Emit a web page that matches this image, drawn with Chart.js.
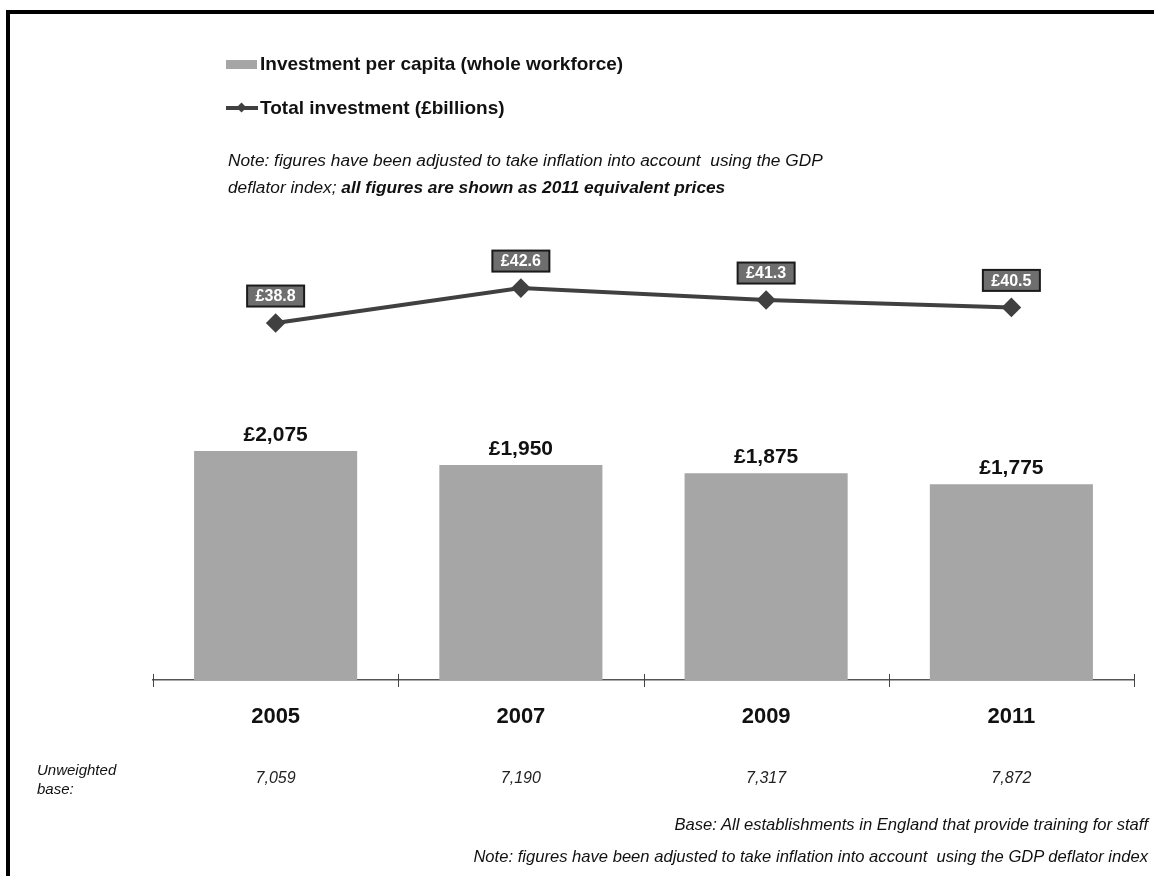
<!DOCTYPE html>
<html>
<head>
<meta charset="utf-8">
<script src="https://cdn.jsdelivr.net/npm/chart.js@4"></script>
<style>
  body { margin: 0; background: #fff; font-family: Arial, "Liberation Sans", sans-serif; color: #111; }
  #wrap { position: relative; width: 1154px; height: 876px; overflow: hidden; }
  #frame { position: absolute; left: 6px; top: 10px; right: -10px; bottom: -10px; border-left: 4px solid #000; border-top: 4px solid #000; }
  #chart { position: absolute; left: 0; top: 0; }
  .abs { position: absolute; white-space: nowrap; }
  .legend { font-weight: bold; font-size: 19px; display: flex; align-items: center; }
  .swatch-bar { width: 31px; height: 9px; background: #a6a6a6; margin-right: 3px; }
  .swatch-line { position: relative; width: 32px; height: 4px; background: #404040; margin-right: 2px; }
  .swatch-line::after { content: ""; position: absolute; left: 12px; top: -2px; width: 7px; height: 7px; background: #404040; transform: rotate(45deg); }
  .note { font-style: italic; font-size: 17.3px; line-height: 27px; }
  .foot { font-style: italic; font-size: 16.6px; right: 6px; }
</style>
</head>
<body>
<div id="wrap">
  <div id="frame"></div>
  <canvas id="chart" width="1154" height="876"></canvas>
  <div id="legend"></div>
  <div class="abs note" style="left:228px; top:147px;">Note: figures have been adjusted to take inflation into account&nbsp; using the GDP<br>deflator index; <b>all figures are shown as 2011 equivalent prices</b></div>
  <div class="abs" style="left:37px; top:760px; font-style:italic; font-size:15px; line-height:19px;">Unweighted<br>base:</div>
  <div class="abs foot" style="top:815px;">Base: All establishments in England that provide training for staff</div>
  <div class="abs foot" style="top:847px;">Note: figures have been adjusted to take inflation into account&nbsp; using the GDP deflator index</div>
</div>
<script>
const years = ['2005', '2007', '2009', '2011'];
const perCapita = [2075, 1950, 1875, 1775];
const totalBillions = [38.8, 42.6, 41.3, 40.5];
const unweightedBase = ['7,059', '7,190', '7,317', '7,872'];
const seriesNames = ['Investment per capita (whole workforce)', 'Total investment (£billions)'];

// legend built from the series names
const legend = document.getElementById('legend');
legend.innerHTML =
  '<div class="abs legend" style="left:226px; top:53px;"><span class="swatch-bar"></span>' + seriesNames[0] + '</div>' +
  '<div class="abs legend" style="left:226px; top:97px;"><span class="swatch-line"></span>' + seriesNames[1] + '</div>';

const FONT = 'Arial, "Liberation Sans", sans-serif';

// value labels, tick marks across the axis and the base counts under the years
const extras = {
  id: 'extras',
  afterDatasetsDraw(chart) {
    const ctx = chart.ctx;
    const x = chart.scales.x;
    const area = chart.chartArea;
    ctx.save();

    // bar labels
    ctx.fillStyle = '#111';
    ctx.font = 'bold 21px ' + FONT;
    ctx.textAlign = 'center';
    ctx.textBaseline = 'alphabetic';
    chart.getDatasetMeta(0).data.forEach((bar, i) => {
      ctx.fillText('£' + perCapita[i].toLocaleString('en-GB'), bar.x, bar.y - 10);
    });

    // boxed line labels
    ctx.font = 'bold 16px ' + FONT;
    ctx.textBaseline = 'middle';
    chart.getDatasetMeta(1).data.forEach((pt, i) => {
      const w = 57, h = 21, cx = pt.x, cy = pt.y - 27;
      ctx.fillStyle = '#6e6e6e';
      ctx.fillRect(cx - w / 2, cy - h / 2, w, h);
      ctx.strokeStyle = '#1a1a1a';
      ctx.lineWidth = 2;
      ctx.strokeRect(cx - w / 2, cy - h / 2, w, h);
      ctx.fillStyle = '#fff';
      ctx.fillText('£' + totalBillions[i].toFixed(1), cx, cy + 1);
    });

    // tick marks at category boundaries
    ctx.strokeStyle = '#444';
    ctx.lineWidth = 1;
    for (let i = 0; i <= years.length; i++) {
      const px = Math.round(x.getPixelForValue(i - 0.5)) + 0.5;
      ctx.beginPath();
      ctx.moveTo(px, area.bottom - 6);
      ctx.lineTo(px, area.bottom + 7);
      ctx.stroke();
    }

    // unweighted base counts
    ctx.fillStyle = '#222';
    ctx.font = 'italic 16px ' + FONT;
    ctx.textBaseline = 'middle';
    unweightedBase.forEach((v, i) => {
      ctx.fillText(v, x.getPixelForValue(i), 779);
    });
    ctx.restore();
  }
};

new Chart(document.getElementById('chart'), {
  type: 'bar',
  data: {
    labels: years,
    datasets: [
      {
        label: seriesNames[0],
        data: perCapita,
        yAxisID: 'y',
        backgroundColor: '#a6a6a6',
        categoryPercentage: 1,
        barPercentage: 0.665,
        order: 1
      },
      {
        type: 'line',
        label: seriesNames[1],
        data: totalBillions,
        yAxisID: 'y2',
        borderColor: '#404040',
        borderWidth: 4,
        pointStyle: 'rectRot',
        pointRadius: 7,
        pointBackgroundColor: '#404040',
        pointBorderColor: '#404040',
        tension: 0,
        order: 0
      }
    ]
  },
  options: {
    responsive: false,
    animation: false,
    layout: { padding: { left: 153, right: 20, top: 220, bottom: 0 } },
    plugins: { legend: { display: false }, tooltip: { enabled: false } },
    scales: {
      x: {
        grid: { display: false, drawTicks: false },
        border: { display: true, color: '#555', width: 1.5 },
        ticks: { color: '#111', font: { family: FONT, size: 22, weight: 'bold' }, padding: 24 },
        afterFit(scale) { scale.height = 196; }
      },
      y: { display: false, min: 0, max: 4170 },
      y2: { display: false, min: 0, max: 50 }
    }
  },
  plugins: [extras]
});
</script>
</body>
</html>
